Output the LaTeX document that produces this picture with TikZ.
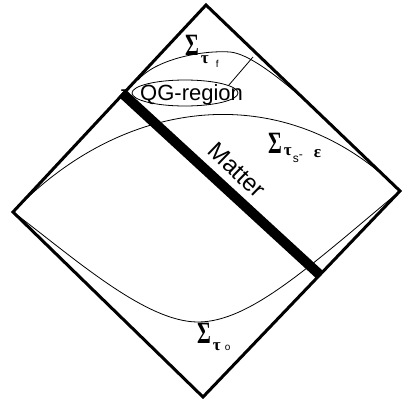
\documentclass[tikz,border=0pt]{standalone}
\usepackage{fontspec}
\setmainfont{Liberation Sans}
\newfontfamily\grk{Liberation Serif}
\usetikzlibrary{shapes.geometric}
\newcommand{\BigSig}{{\grk\bfseries\fontsize{31}{31}\selectfont\scalebox{0.68}[1]{Σ}}}
\newcommand{\SmTau}{{\grk\bfseries\fontsize{17}{17}\selectfont τ}}
\begin{document}
\begin{tikzpicture}[x=1pt,y=-1pt,
  edge/.style={line width=3pt,line join=miter},
  surf/.style={line width=0.8pt},
  matterbar/.style={line width=10pt},
  lbl/.style={inner sep=0pt,anchor=base west},
  bigtext/.style={inner sep=0pt,font=\fontsize{22}{22}\selectfont}]
\useasboundingbox (0,0) rectangle (402,399);
\coordinate (T) at (206,5);
\coordinate (R) at (400,191);
\coordinate (B) at (203,397);
\coordinate (L) at (13,212);
% surfaces
\coordinate (S0) at (198,322);
\draw[surf] (L) .. controls (73,257) and (145,322) .. (S0)
  .. controls (250,322) and (310,266) .. (R);
\draw[surf] (L) .. controls (128,92) and (290,80) .. (R);
\coordinate (Sf) at (138,80);
\coordinate (Pf) at (230,52);
\draw[surf] (Sf) .. controls (155,60) and (200,50) .. (Pf)
  .. controls (265,55) and (342,135) .. (R);
% diamond
\draw[edge] (T) -- (R) -- (B) -- (L) -- cycle;
% matter
\coordinate (M1) at (122,93);
\coordinate (M2) at (320,275);
\draw[matterbar] (M1) -- (M2);
\node[inner sep=0pt,font=\fontsize{24}{24}\selectfont,rotate=-44] (matter) at (237,170) {Matter};
% QG region
\node[draw,ellipse,line width=0.8pt,minimum width=106pt,minimum height=26pt,inner sep=0pt] (qg) at (185,93) {};
\node[bigtext,anchor=base west] (qgtext) at (140,100) {QG-region};
\node[bigtext] (qgdash) at (124,93) {-};
\coordinate (ptr) at (253,57);
\draw[surf] (ptr) -- (qg.10);
% labels
\node[lbl] (lf) at (185,55) {\BigSig\hspace{2pt}\raisebox{-8pt}{\SmTau}\hspace{7pt}\raisebox{-12pt}{\fontsize{10}{10}\selectfont f}};
\node[lbl] (ls) at (268,153) {\BigSig\hspace{2pt}\raisebox{-2pt}{\SmTau}\hspace{1pt}\raisebox{-9pt}{\fontsize{12}{12}\selectfont s}\raisebox{-5pt}{\fontsize{12}{12}\selectfont -}\hspace{11pt}\raisebox{-4pt}{{\grk\bfseries\fontsize{17}{17}\selectfont ε}}};
\node[lbl] (lo) at (197,343) {\BigSig\hspace{2pt}\raisebox{-7pt}{\SmTau}\hspace{4pt}\raisebox{-7pt}{\fontsize{10}{10}\selectfont o}};
\end{tikzpicture}
\end{document}
